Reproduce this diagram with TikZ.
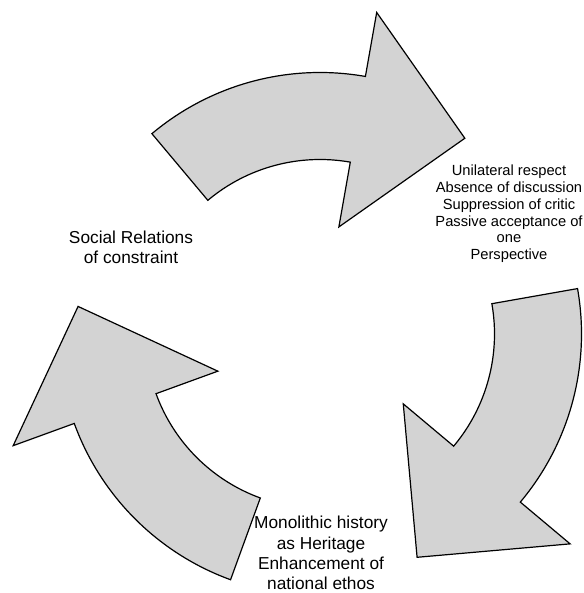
\documentclass[tikz,border=0pt]{standalone}
\usepackage{fontspec}
\setmainfont{Liberation Sans}
\definecolor{arrowgray}{RGB}{211,211,211}
\tikzset{
  cyclearrow/.style={draw=black,fill=arrowgray,line width=1.2pt,line join=miter},
  biglabel/.style={align=center,inner sep=0pt,font=\fontsize{17.3}{20.3}\selectfont},
  smalllabel/.style={align=center,inner sep=0pt,font=\fontsize{14.7}{16.8}\selectfont}
}
\begin{document}
\begin{tikzpicture}[x=1pt,y=1pt]
 \useasboundingbox (-320,-259) rectangle (263,334);
 % three curved arrows, each turned by 120 degrees
 \foreach \a in {80,-40,200}
   \draw[cyclearrow] ({\a+50}:261.5) arc[start angle=\a+50,end angle=\a,radius=261.5]
     -- (\a:326.5) -- ({\a-26.5}:243.5) -- (\a:108.7) -- (\a:174.5)
     arc[start angle=\a,end angle=\a+50,radius=174.5] -- cycle;
 \node[biglabel] (social) at (-189,87) {Social Relations\\of constraint};
 \node[smalllabel] (respect) at (189,120)
   {Unilateral respect\\Absence of discussion\\Suppression of critic\\
    Passive acceptance of\\one\\Perspective};
 \node[biglabel] (history) at (1,-219)
   {Monolithic history\\as Heritage\\Enhancement of\\national ethos};
\end{tikzpicture}
\end{document}
